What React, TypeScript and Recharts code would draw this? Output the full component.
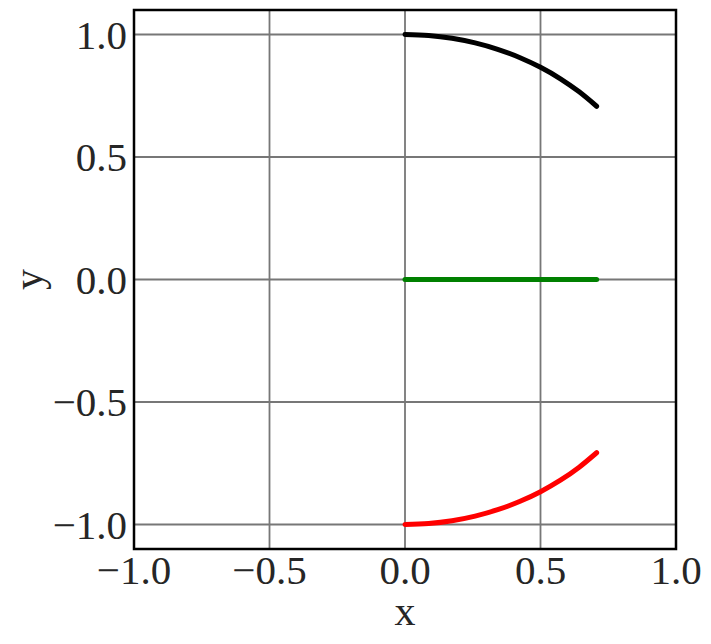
import { LineChart, Line, XAxis, YAxis, CartesianGrid, ReferenceArea } from "recharts";

// x = sin(t)
const xs = [0, 0.0872, 0.1736, 0.2588, 0.342, 0.4226, 0.5, 0.5736, 0.6428, 0.7071];
const upper = [1, 0.9962, 0.9848, 0.9659, 0.9397, 0.9063, 0.866, 0.8192, 0.766, 0.7071];
const middle = [0, 0, 0, 0, 0, 0, 0, 0, 0, 0];
const lower = [-1, -0.9962, -0.9848, -0.9659, -0.9397, -0.9063, -0.866, -0.8192, -0.766, -0.7071];

const xTicks = [-1, -0.5, 0, 0.5, 1];
const yTicks = [-1, -0.5, 0, 0.5, 1];

const toRows = (ys: number[]) => xs.map((x, i) => ({ x, y: ys[i] }));

const FONT = "'Liberation Serif', 'Times New Roman', serif";
const TEXT = "#262626";

const fmt = (v: number) => (v < 0 ? "\u2212" : "") + Math.abs(v).toFixed(1);

const XTick = (props: any) => {
  const { x, y, payload } = props;
  return (
    <text x={x} y={y + 35} textAnchor="middle" fontFamily={FONT} fontSize={41} fill={TEXT}>
      {fmt(payload.value)}
    </text>
  );
};

const YTick = (props: any) => {
  const { x, y, payload } = props;
  return (
    <text x={x - 7} y={y + 14} textAnchor="end" fontFamily={FONT} fontSize={41} fill={TEXT}>
      {fmt(payload.value)}
    </text>
  );
};

const XLabel = (props: any) => {
  const vb = props.viewBox;
  return (
    <text x={vb.x + vb.width / 2} y={vb.y + 76} textAnchor="middle" fontFamily={FONT} fontSize={42} fill={TEXT}>
      x
    </text>
  );
};

const YLabel = (props: any) => {
  const vb = props.viewBox;
  const cx = vb.x + 42;
  const cy = vb.y + vb.height / 2;
  return (
    <text
      transform={`translate(${cx},${cy}) rotate(-90)`}
      textAnchor="middle"
      fontFamily={FONT}
      fontSize={42}
      fill={TEXT}
    >
      y
    </text>
  );
};

export default function App() {
  return (
    <div style={{ position: "absolute", left: 0, top: 0, width: 711, height: 644, background: "#fff" }}>
      <LineChart width={711} height={644} margin={{ top: 10, right: 35, bottom: 0, left: 0 }}>
        <CartesianGrid stroke="#777" strokeWidth={1.8} horizontalValues={yTicks} verticalValues={xTicks} />
        <XAxis
          type="number"
          dataKey="x"
          domain={[-1, 1]}
          ticks={xTicks}
          height={95}
          tickSize={0}
          tickMargin={0}
          axisLine={false}
          tick={<XTick />}
          label={<XLabel />}
          allowDataOverflow
        />
        <YAxis
          type="number"
          dataKey="y"
          domain={[-1.1, 1.1]}
          ticks={yTicks}
          width={134}
          tickSize={0}
          tickMargin={0}
          axisLine={false}
          tick={<YTick />}
          label={<YLabel />}
          allowDataOverflow
        />
        <ReferenceArea x1={-1} x2={1} y1={-1.1} y2={1.1} fill="none" stroke="#000" strokeWidth={2.5} ifOverflow="visible" />
        <Line data={toRows(upper)} dataKey="y" type="monotone" stroke="#000" strokeWidth={5} strokeLinecap="round" dot={false} isAnimationActive={false} />
        <Line data={toRows(middle)} dataKey="y" type="monotone" stroke="#008000" strokeWidth={5} strokeLinecap="round" dot={false} isAnimationActive={false} />
        <Line data={toRows(lower)} dataKey="y" type="monotone" stroke="#ff0000" strokeWidth={5} strokeLinecap="round" dot={false} isAnimationActive={false} />
      </LineChart>
    </div>
  );
}
